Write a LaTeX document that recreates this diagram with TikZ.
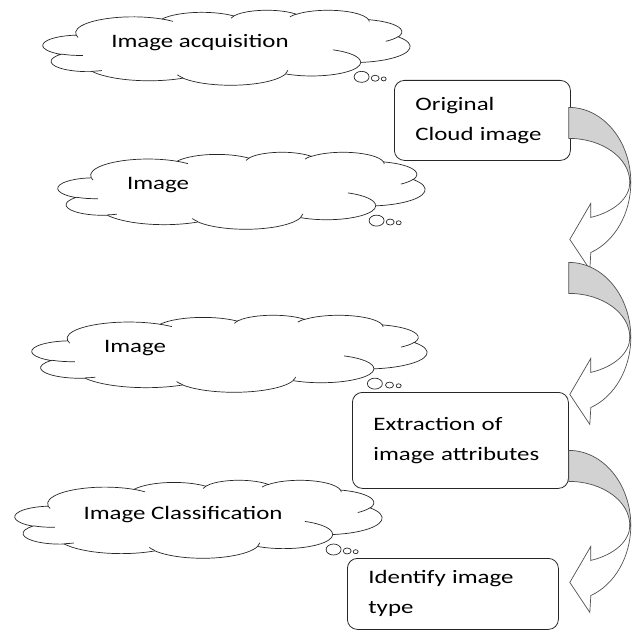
\documentclass[tikz,border=0pt]{standalone}
\usepackage{fontspec}
\setmainfont{Carlito}[FakeStretch=1.31]
\definecolor{bandgray}{RGB}{210,210,210}
\definecolor{edgegray}{RGB}{80,80,80}

% one lobe of the cloud: visual start angle, sweep, x radius, y radius
\newcommand{\lobe}[4]{arc[start angle={atan2(#3*sin(#1),#4*cos(#1))},
  delta angle={mod(atan2(#3*sin(#1+#2),#4*cos(#1+#2))-atan2(#3*sin(#1),#4*cos(#1))+720,360)},
  x radius=#3, y radius=#4]}

% thought cloud: left, top, width, height (in px)
\newcommand{\thinkcloud}[4]{%
  \pgfmathsetmacro{\cldx}{#3/432}%
  \pgfmathsetmacro{\cldy}{#4/432}%
  \begin{scope}[shift={(#1,#2)}, x=\cldx pt, y=-\cldy pt]
    \draw[outline, fill=white] (39,143.7)
      \lobe{-190.49}{123.78}{67.53}{91.90}
      \lobe{-144.10}{89.95}{53.33}{72.67}
      \lobe{-145.81}{99.72}{43.65}{59.45}
      \lobe{-130.99}{117.24}{48.57}{65.95}
      \lobe{-78.71}{109.03}{53.33}{72.73}
      \lobe{-46.27}{130.27}{67.75}{92.20}
      \lobe{0.63}{114.03}{57.85}{78.67}
      \lobe{22.45}{115.17}{67.52}{92.15}
      \lobe{66.24}{75.71}{77.20}{105.43}
      \lobe{-274.94}{146.74}{43.60}{59.18}
      \lobe{-246.83}{152.52}{43.45}{59.45}
      -- cycle;
    \draw[outline]
      (46.93,261.77) \lobe{86.74}{26.43}{43.45}{59.45}
      (69.28,348.99) \lobe{73.61}{11.45}{43.60}{59.18}
      (164.78,390.90) \lobe{137.62}{14.08}{67.52}{92.15}
      (288.27,347.51) \lobe{6.45}{16.00}{67.52}{92.15}
      (341.29,229.54) \lobe{-70.29}{70.92}{57.85}{78.67}
      (417.98,153.54) \lobe{30.32}{27.75}{53.33}{72.73}
      (383.24,54.26) \lobe{-13.74}{14.86}{48.57}{65.95}
      (290.78,39.52) \lobe{-149.18}{18.20}{48.57}{65.95}
      (221.41,47.20) \lobe{-163.49}{17.69}{43.65}{59.45}
      (140.00,51.92) \lobe{-66.71}{12.32}{67.53}{91.90}
      (41.27,157.89) \lobe{157.65}{11.86}{67.53}{91.90};
    \draw[outline, fill=white] (375,385) ellipse[x radius=7.5pt, y radius=5.5pt];
    \draw[outline, fill=white] (391,393) ellipse[x radius=4pt, y radius=3pt];
    \draw[outline, fill=white] (401,397) ellipse[x radius=2.5pt, y radius=2pt];
  \end{scope}}

% curved left arrow hanging off a start point
\newcommand{\bendarrow}[1]{%
  \begin{scope}[shift={#1}]
    \draw[arrowline, fill=bandgray] (0,0)
      arc[start angle=-90, end angle=0, x radius=62, y radius=75]
      -- (61,75) arc[start angle=0, end angle=-90, x radius=61, y radius=44] -- cycle;
    \draw[arrowline, fill=white] (62,75)
      arc[start angle=0, end angle=69.2, x radius=62, y radius=75]
      -- (21,162) -- (1,132) -- (22,96) -- (22,110)
      arc[start angle=68.9, end angle=0, x radius=61, y radius=37.5] -- cycle;
  \end{scope}}

\begin{document}
\begin{tikzpicture}[
    x=1pt, y=-1pt,
    every node/.style={font=\fontsize{19}{30}\selectfont},
    box/.style={draw=black!85, fill=white, rounded corners=10pt, anchor=north west, align=left, inner xsep=21pt, line width=0.8pt},
    cloudtext/.style={inner sep=0pt},
    outline/.style={draw=black!85, line width=0.7pt},
    arrowline/.style={draw=edgegray, line width=0.7pt}
]
\useasboundingbox (0,0) rectangle (636,631);

% clouds
\thinkcloud{43}{10}{367}{75}
\node[cloudtext] (acq) at (200,43) {Image acquisition};
\thinkcloud{58}{152}{367}{77}
\node[cloudtext] (img1) at (158,185) {Image};
\thinkcloud{32}{315}{395}{77}
\node[cloudtext] (img2) at (135,348) {Image};
\thinkcloud{15}{480}{367}{78}
\node[cloudtext] (cls) at (183,515) {Image Classification};

% boxes
\node[box, minimum width=176pt, minimum height=80pt, text width=134pt] (orig) at (394,80) {Original\\Cloud image};
\node[box, minimum width=216pt, minimum height=96pt, text width=174pt] (extr) at (352,392) {Extraction of\\image attributes};
\node[box, minimum width=211pt, minimum height=71pt, text width=169pt] (ident) at (347,558) {Identify image\\type};

% arrows
\coordinate (a1) at ([xshift=-2pt, yshift=13pt]orig.east);
\coordinate (a2) at ([yshift=-155pt]a1);
\coordinate (a3) at ([yshift=-10pt]extr.east);
\bendarrow{(a1)}
\bendarrow{(a2)}
\bendarrow{(a3)}
\end{tikzpicture}
\end{document}
